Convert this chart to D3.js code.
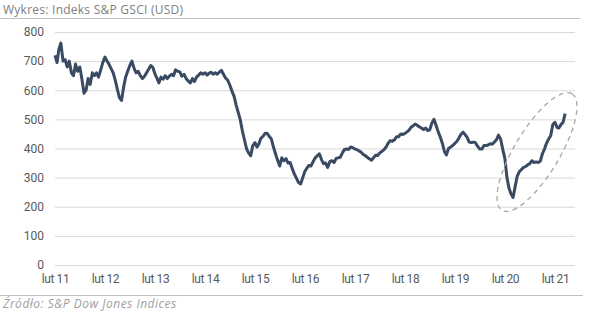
<!DOCTYPE html>
<html><head><meta charset="utf-8">
<script src="https://cdn.jsdelivr.net/npm/d3@7"></script>
<style>
html,body{margin:0;padding:0;background:#fff;}
svg{display:block;font-family:Roboto,"Liberation Sans",sans-serif;}
</style></head>
<body><svg id="c" width="602" height="320"></svg>
<script>
const titleText = "Wykres: Indeks S&P GSCI (USD)";
const sourceText = "Źródło: S&P Dow Jones Indices";
const yTicks = [0,100,200,300,400,500,600,700,800];
const xTickDates = ["2011-02-01","2012-02-01","2013-02-01","2014-02-01","2015-02-01","2016-02-01","2017-02-01","2018-02-01","2019-02-01","2020-02-01","2021-02-01"];
const xTickLabels = ["lut 11","lut 12","lut 13","lut 14","lut 15","lut 16","lut 17","lut 18","lut 19","lut 20","lut 21"];

const dates = [
"2011-02-01","2011-02-16","2011-03-01","2011-03-16","2011-04-01","2011-04-16","2011-05-01","2011-05-16","2011-06-01","2011-06-16","2011-07-01","2011-07-16","2011-08-01","2011-08-16","2011-09-01","2011-09-16","2011-10-01","2011-10-16","2011-11-01","2011-11-16","2011-12-01","2011-12-16",
"2012-01-01","2012-01-16","2012-02-01","2012-02-16","2012-03-01","2012-03-16","2012-04-01","2012-04-16","2012-05-01","2012-05-16","2012-06-01","2012-06-16","2012-07-01","2012-07-16","2012-08-01","2012-08-16","2012-09-01","2012-09-16","2012-10-01","2012-10-16","2012-11-01","2012-11-16","2012-12-01","2012-12-16",
"2013-01-01","2013-01-16","2013-02-01","2013-02-16","2013-03-01","2013-03-16","2013-04-01","2013-04-16","2013-05-01","2013-05-16","2013-06-01","2013-06-16","2013-07-01","2013-07-16","2013-08-01","2013-08-16","2013-09-01","2013-09-16","2013-10-01","2013-10-16","2013-11-01","2013-11-16","2013-12-01","2013-12-16",
"2014-01-01","2014-01-16","2014-02-01","2014-02-16","2014-03-01","2014-03-16","2014-04-01","2014-04-16","2014-05-01","2014-05-16","2014-06-01","2014-06-16","2014-07-01","2014-07-16","2014-08-01","2014-08-16","2014-09-01","2014-09-16","2014-10-01","2014-10-16","2014-11-01","2014-11-16","2014-12-01","2014-12-16",
"2015-01-01","2015-01-16","2015-02-01","2015-02-16","2015-03-01","2015-03-16","2015-04-01","2015-04-16","2015-05-01","2015-05-16","2015-06-01","2015-06-16","2015-07-01","2015-07-16","2015-08-01","2015-08-16","2015-09-01","2015-09-16","2015-10-01","2015-10-16","2015-11-01","2015-11-16","2015-12-01","2015-12-16",
"2016-01-01","2016-01-16","2016-02-01","2016-02-16","2016-03-01","2016-03-16","2016-04-01","2016-04-16","2016-05-01","2016-05-16","2016-06-01","2016-06-16","2016-07-01","2016-07-16","2016-08-01","2016-08-16","2016-09-01","2016-09-16","2016-10-01","2016-10-16","2016-11-01","2016-11-16","2016-12-01","2016-12-16",
"2017-01-01","2017-01-16","2017-02-01","2017-02-16","2017-03-01","2017-03-16","2017-04-01","2017-04-16","2017-05-01","2017-05-16","2017-06-01","2017-06-16","2017-07-01","2017-07-16","2017-08-01","2017-08-16","2017-09-01","2017-09-16","2017-10-01","2017-10-16","2017-11-01","2017-11-16","2017-12-01","2017-12-16",
"2018-01-01","2018-01-16","2018-02-01","2018-02-16","2018-03-01","2018-03-16","2018-04-01","2018-04-16","2018-05-01","2018-05-16","2018-06-01","2018-06-16","2018-07-01","2018-07-16","2018-08-01","2018-08-16","2018-09-01","2018-09-16","2018-10-01","2018-10-16","2018-11-01","2018-11-16","2018-12-01","2018-12-16",
"2019-01-01","2019-01-16","2019-02-01","2019-02-16","2019-03-01","2019-03-16","2019-04-01","2019-04-16","2019-05-01","2019-05-16","2019-06-01","2019-06-16","2019-07-01","2019-07-16","2019-08-01","2019-08-16","2019-09-01","2019-09-16","2019-10-01","2019-10-16","2019-11-01","2019-11-16","2019-12-01","2019-12-16",
"2020-01-01","2020-01-16","2020-02-01","2020-02-16","2020-03-01","2020-03-16","2020-04-01","2020-04-16","2020-05-01","2020-05-16","2020-06-01","2020-06-16","2020-07-01","2020-07-16","2020-08-01","2020-08-16","2020-09-01","2020-09-16","2020-10-01","2020-10-16","2020-11-01","2020-11-16","2020-12-01","2020-12-16",
"2021-01-01","2021-01-16","2021-02-01","2021-02-16","2021-03-01","2021-03-16","2021-04-01","2021-04-16"
];
const values = [
720,695,740,762,700,705,680,700,660,650,690,665,680,640,590,600,640,620,660,650,660,645,
670,695,714,700,690,675,660,635,605,575,565,610,645,665,685,700,675,660,665,650,640,648,660,672,
685,678,655,640,625,645,638,650,640,648,655,650,670,665,663,648,655,640,632,625,640,630,645,652,
660,655,660,652,658,662,655,660,655,662,668,655,642,635,618,598,580,550,525,500,460,430,400,385,
375,410,420,405,415,435,442,452,452,442,432,405,382,360,340,368,358,365,350,352,330,312,298,283,
278,300,322,333,342,340,355,368,375,382,362,348,350,335,355,358,352,366,368,370,385,397,398,397,
405,403,398,396,392,388,380,376,370,365,360,368,377,376,385,390,396,405,418,427,425,430,440,440,
450,448,452,457,462,472,478,484,480,475,470,465,470,462,464,487,500,480,458,440,418,390,378,400,
405,410,418,425,435,448,456,448,438,422,420,422,420,408,398,398,410,410,412,416,415,422,430,446,
432,398,365,300,265,245,232,270,305,320,328,335,338,344,348,358,352,354,352,356,382,398,418,432,
445,482,490,472,470,482,490,520
];

const parse = d3.timeParse("%Y-%m-%d");
const data = dates.map((d,i)=>({date:parse(d), value:values[i]}));

const svg = d3.select("#c");
const mLeft = 55, mRight = 575, mTop = 32, mBottom = 265;

const x = d3.scaleTime()
  .domain([parse(xTickDates[0]), parse(xTickDates[xTickDates.length-1])])
  .range([55, 555]);
const y = d3.scaleLinear().domain([0,800]).range([mBottom, mTop]);

// title + top rule
svg.append("text").attr("x",3).attr("y",14)
  .attr("font-family","'Open Sans', sans-serif")
  .attr("font-size",12).attr("fill","#808080").attr("letter-spacing","0.25")
  .text(titleText);
svg.append("line").attr("x1",0).attr("x2",580).attr("y1",18.5).attr("y2",18.5)
  .attr("stroke","#bfbfbf").attr("stroke-width",1);

// y axis with gridlines
const yAxis = svg.append("g").attr("transform",`translate(${mLeft},0)`)
  .call(d3.axisLeft(y).tickValues(yTicks).tickSize(-(mRight-mLeft)).tickPadding(11).tickFormat(d3.format("d")));
yAxis.select(".domain").remove();
yAxis.selectAll(".tick line").attr("stroke","#d9d9d9").attr("stroke-width",1);
yAxis.selectAll(".tick text").attr("font-size",12).attr("fill","#595959").attr("font-family","Roboto, sans-serif");

// x axis labels
const xAxis = svg.append("g").attr("transform",`translate(0,${mBottom})`)
  .call(d3.axisBottom(x).tickValues(xTickDates.map(parse)).tickSize(0).tickPadding(9)
    .tickFormat((d,i)=>xTickLabels[i]));
xAxis.select(".domain").remove();
xAxis.selectAll(".tick text").attr("font-size",12).attr("fill","#595959").attr("font-family","Roboto, sans-serif").attr("letter-spacing","-0.4");

// line
svg.append("path").datum(data)
  .attr("fill","none").attr("stroke","#3a4a62").attr("stroke-width",3)
  .attr("stroke-linejoin","round")
  .attr("d", d3.line().x(d=>x(d.date)).y(d=>y(d.value)));

// dashed ellipse highlight
svg.append("ellipse")
  .attr("cx",537).attr("cy",152).attr("rx",68).attr("ry",22.5)
  .attr("transform","rotate(-59 537 152)")
  .attr("fill","none").attr("stroke","#a6a6a6").attr("stroke-width",1.3)
  .attr("stroke-dasharray","5,4");

// bottom rule + source
svg.append("line").attr("x1",0).attr("x2",583).attr("y1",295.5).attr("y2",295.5)
  .attr("stroke","#bfbfbf").attr("stroke-width",1);
svg.append("text").attr("x",3).attr("y",308)
  .attr("font-family","'Open Sans', sans-serif")
  .attr("font-size",12).attr("font-style","italic").attr("fill","#a0a0a0").attr("letter-spacing","0.5")
  .text(sourceText);
</script></body></html>
